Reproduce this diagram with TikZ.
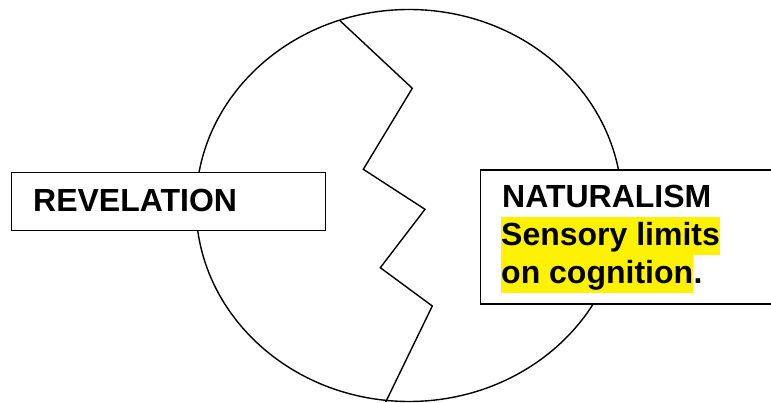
\documentclass[tikz,border=0pt]{standalone}
\usepackage{fontspec}
\setmainfont{Liberation Sans}
\begin{document}
\begin{tikzpicture}[x=1pt,y=-1pt,
  outline/.style={draw=black,line width=1.4pt},
  boxstyle/.style={outline,fill=white,inner sep=0pt,anchor=north west},
  label/.style={font=\fontsize{32}{38}\selectfont\bfseries,inner sep=0pt,anchor=base west},
  hilite/.style={label,fill=yellow,text height=29pt,text depth=9pt}]
\useasboundingbox (0,0) rectangle (771,403);
\fill[white] (0,0) rectangle (771,403);
\draw[outline] (409,205.5) ellipse [x radius=213, y radius=196];
\draw[outline,line join=miter] (340,20.7) -- (412.3,88.3) -- (363.3,169.3) -- (425,209.3)
  -- (380.3,267.7) -- (432.3,306) -- (385.7,402);
\node (revbox) [boxstyle,minimum width=314pt,minimum height=58pt] at (11,172) {};
\node (revtext) [label] at (33,212) {REVELATION};
\node (natbox) [boxstyle,minimum width=310pt,minimum height=134pt] at (480,169.5) {};
\node (nattext) [label] at (502,208) {NATURALISM};
\node (line1) [hilite] at (501,246) {Sensory limits};
\node (line2) [hilite] at (501,284) {on cognition};
\node (dot) [label] at (line2.base east) {.};
\end{tikzpicture}
\end{document}
